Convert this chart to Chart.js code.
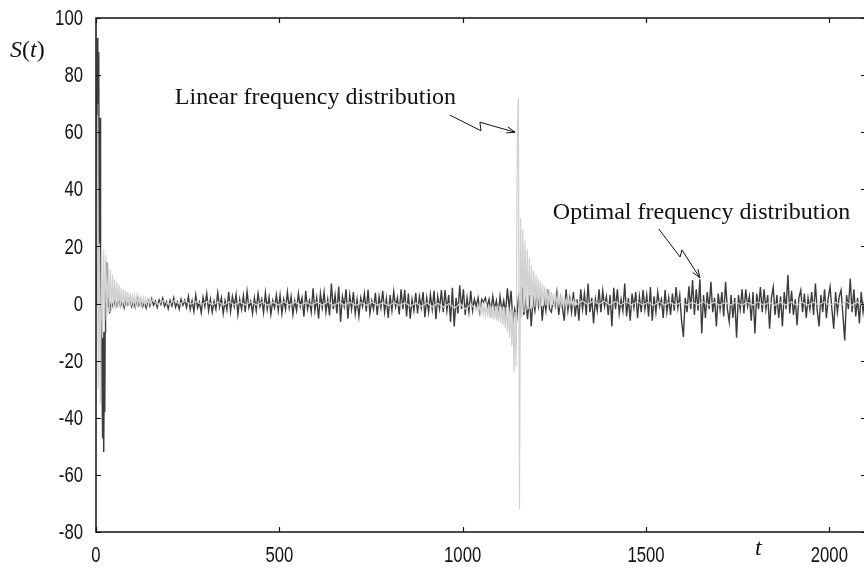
<!DOCTYPE html>
<html>
<head>
<meta charset="utf-8">
<script src="https://cdn.jsdelivr.net/npm/chart.js@4.4.0/dist/chart.umd.min.js"></script>
<style>
  html, body { margin: 0; padding: 0; background: #fff; overflow: hidden; }
  #wrap { width: 870px; height: 572px; }
</style>
</head>
<body>
<div id="wrap"><canvas id="c"></canvas></div>
<script>
// axis ticks
const xTicks = [0, 500, 1000, 1500, 2000];
const yTicks = [-80, -60, -40, -20, 0, 20, 40, 60, 80, 100];

// optimal frequency distribution (dark) - first big swing, read point by point
const darkHeadT = [0, 2, 4, 5, 6, 7, 8, 9, 10, 11, 12, 13, 14, 16, 18, 19, 20, 21, 22, 24, 25, 26, 28, 29, 31, 33, 35, 37, 39];
const darkHeadS = [0, 50, 93, 70, 87, 75, 88, 20, -3, 65, 30, -5, 0, -20, -47, -30, -10, -52, -35, -38, -10, 2, 10, 14.5, 10, -1, 2, -3.5, -1];

// then sampled every 5 from t = 42
const darkStart = 42, darkStep = 5;
const darkA = [ // t 42 - 497
  0.5, -1.2, 1.0, -0.8, 1.5, -1.0, 0.8, -1.5, 1.2, -0.5,
  1.4, -1.1, 0.6, -1.3, 1.8, -0.7, 1.0, -1.2, 0.4, -1.6,
  1.2, -0.9, 1.7, -0.6, 0.9, -1.4, 1.3, -0.3, 1.9, -1.0,
  0.7, -1.8, 1.1, -0.8, 2.0, -1.3, 0.5, -1.9, 1.5, -0.6,
  1.2, -1.4,
  2.5, -2.0, 1.0, -2.8, 3.0, -1.5, 0.5, -3.2, 2.2, -1.0,
  3.5, -2.5, 1.5, -3.0, 0.8, -2.0, 3.8, -1.2, 2.0, -3.5,
  1.0, -2.2, 4.0, -2.8, 2.5, -1.0, 3.2, -3.8, 1.5, -2.0,
  2.8, -3.0, 4.2, -1.5, 0.8, -3.5, 2.0, -2.5, 3.5, -1.0,
  1.5, -3.2, 3.8, -2.0, 2.2, -3.8, 1.0, -1.5, 3.0, -2.5
];
const darkB = [ // t 502 - 997
  3.0, -3.5, 1.5, -2.0, 4.0, -1.5, 2.5, -3.8, 1.0, -2.5,
  3.5, -1.0, 2.0, -4.5, 4.5, -2.0, 1.0, -3.0, 5.3, -2.5,
  2.0, -5.3, 3.5, -1.5, 4.0, -3.0, 1.5, -4.2, 7.0, -2.0,
  3.0, -3.5, 6.0, -6.4, 2.5, -1.0, 5.0, -5.3, 3.0, -2.0,
  4.0, -3.5, 1.5, -4.5, 2.0, -1.0, 3.5, -2.8, 4.8, -3.5,
  1.0, -2.0, 3.8, -4.0, 2.5, -1.5, 4.5, -3.0, 1.8, -5.0,
  3.0, -2.5, 4.2, -1.2, 2.0, -3.8, 5.0, -2.0, 4.7, -4.5,
  3.5, -5.3, 1.5, -2.5, 3.8, -3.5, 2.5, -1.5, 4.0, -4.8,
  2.0, -3.0, 3.2, -2.0, 4.5, -5.5, 2.5, -1.8, 4.7, -3.0,
  4.7, -2.5, 3.0, -6.4, 5.5, -8.0, 2.0, -3.5, 6.4, -2.0
];
const darkC = [ // t 1002 - 1497
  5.0, -4.0, 2.0, -3.0, 4.5, -2.5, 1.5, -1.0, 2.0, -3.0,
  1.5, 0.5, 2.0, -1.0, 1.5, -3.0, 2.5, -2.0, 1.0, -4.0,
  2.5, -2.5, 1.0, -3.5, 5.3, -1.5, 4.5, -6.4, -2.0, -5.8,
  2.0, -3.0, 5.8, -4.0, 1.0, -5.5, 3.0, -8.0, 2.0, -2.5,
  3.0, -1.0, 4.7, -6.0, 1.5, -2.5, 5.0, -2.0, -3.0, 1.5,
  -1.0, 4.0, -4.0, 2.0, -1.5, -6.0, 5.0, -2.5, 2.0, -3.0,
  4.0, -4.5, 1.5, -6.0, 5.0, -2.0, 3.5, -4.0, 7.0, -3.0,
  2.0, -7.0, 1.5, -2.5, 5.0, -3.0, 4.5, -1.0, 2.5, -4.0,
  3.0, -8.0, 5.5, -2.0, 5.0, -3.5, 1.5, -2.5, 7.0, -4.5,
  2.0, -6.0, 3.5, -1.5, 4.0, -5.0, 2.5, -3.0, 4.7, -2.0
];
const darkD = [ // t 1502 - 2097
  3.0, -4.5, 5.8, -6.0, 2.5, -3.0, 4.0, -1.0, 1.5, -5.0,
  4.7, -3.0, 2.0, -4.0, 3.5, -2.5, 5.8, -1.5, 3.0, -6.0,
  -11.7, 2.0, -3.0, 6.0, -2.0, 8.2, -4.0, 5.0, -2.5, 8.5,
  -10.5, 3.0, -5.0, 4.0, -2.0, 7.6, -3.0, 2.0, -8.0, 3.5,
  -2.0, 4.0, -4.5, 7.6, -2.0, -6.4, 3.0, -5.0, 2.0, -12.0,
  3.0, -2.0, 5.0, -3.5, 5.0, -1.0, 2.5, -6.0, 4.0, -10.5,
  3.5, -2.0, 5.8, -3.0, 5.0, -2.0, 3.0, -8.8, 2.0, 5.8,
  -4.0, 3.0, -5.0, 2.5, -8.0, 4.0, -2.0, 10.0, -3.5, 4.5,
  -4.0, 1.5, -7.6, 2.0, 4.7, -3.0, 3.5, -5.0, 2.0, -2.0,
  4.0, -4.0, 7.0, -2.5, -8.0, 3.0, -3.0, 5.0, -5.0, 2.0,
  5.8, -2.0, -8.8, 4.0, -3.0, 2.5, 4.7, -4.0, -12.9, 3.0,
  -2.0, 8.8, -3.0, 5.0, -4.5, 2.0, -7.0, 4.0, -3.0, 2.0
];

// linear frequency distribution (light) - ringing at start, every 3 from t = 0
const lightHead = [
  0, 66, -30, 21, -35, 20, -12, 19, -6, 17, -4, 14, -3, 12, -2.5, 10, -2,
  8.5, -2, 7.5, -1.5, 6.5, -1.5, 5.5, -1, 5, -1, 4.5, -1, 4, -0.8, 3.6, -0.8,
  3.2, -0.6, 3, -0.6, 2.7, -0.5, 2.5, -0.5, 2.2, -0.4, 2, -0.4, 1.8, -0.3,
  1.6, -0.3, 1.5, -0.3
];
// quiet part, every 15 from t = 153
const lightMid = [
  1.3, -0.3, 1.1, -0.3, 1.0, -0.2, 0.9, -0.3, 0.8, -0.3,
  0.7, -0.4, 0.6, -0.5, 0.6, -0.4, 0.5, -0.5, 0.6, -0.5,
  0.5, -0.6, 0.4, -0.5, 0.6, -0.6, 0.5, -0.5, 0.4, -0.6,
  0.5, -0.5, 0.6, -0.6, 0.4, -0.5, 0.5, -0.7, 0.4, -0.6,
  0.5, -0.6, 0.3, -0.8, 0.4, -0.7, 0.3, -0.9, 0.2, -1.0,
  0.2, -1.1, 0.1, -1.3, 0.0, -1.6, 0.0, -2.0, -0.2, -2.5
];
// burst around t = 1150, every 3 from t = 1041
const lightBurst = [
  -0.5, -3.0, -0.3, -3.5, -0.5, -3.8, -0.5, -4.2, -0.6, -4.6,
  -0.6, -5.0, -0.7, -5.3, -0.8, -5.6, -0.8, -6.0, -0.9, -6.3,
  -1.0, -6.8, -1.0, -7.5, -1.2, -8.5, -1.3, -10.0, -1.5, -12.0,
  -1.8, -15.0, -2.0, -24.0, -3.0, -22.0, 60.0, 72.0, -72.0, 30.0,
  -5.0, 26.0, -3.0, 22.0, -2.5, 19.0, -2.0, 16.0, -1.8, 13.5,
  -1.5, 11.5, -1.3, 10.0, -1.1, 8.8, -1.0, 7.8, -0.9, 6.8,
  -0.8, 6.0, -0.7, 5.2, -0.6, 4.6, -0.6, 4.0, -0.5, 3.5,
  -0.5, 3.0, -0.4, 2.7, -0.4, 2.4, -0.4, 2.1, -0.3, 1.9,
  -0.3, 1.7, -0.3, 1.5, -0.3, 1.3, -0.3, 1.2, -0.3, 1.1,
  -0.3
];
// tail, every 15 from t = 1326
const lightTail = [
  1.0, -0.3, 0.9, -0.3, 0.8, -0.4, 0.7, -0.4, 0.6, -0.5,
  0.6, -0.5, 0.5, -0.6, 0.6, -0.5, 0.5, -0.6, 0.6, -0.6,
  0.5, -0.5, 0.6, -0.6, 0.5, -0.6, 0.4, -0.5, 0.6, -0.6,
  0.5, -0.5, 0.6, -0.6, 0.5, -0.6, 0.5, -0.5, 0.6, -0.6,
  0.5, -0.6, 0.5, -0.5, 0.6, -0.6, 0.5, -0.5, 0.6, -0.6,
  0.5, -0.5, 0.5
];

const seq = (t0, dt, vals) => vals.map((v, i) => ({ x: t0 + dt * i, y: v }));

const darkPts = darkHeadT.map((t, i) => ({ x: t, y: darkHeadS[i] }))
  .concat(seq(darkStart, darkStep, [...darkA, ...darkB, ...darkC, ...darkD]));
const lightPts = [].concat(
  seq(0, 3, lightHead),
  seq(153, 15, lightMid),
  seq(1041, 3, lightBurst),
  seq(1326, 15, lightTail)
);

const serif = "'Liberation Serif', 'Times New Roman', serif";
const sans = "'Liberation Sans', Arial, sans-serif";
const squeeze = 0.76; // tick labels are narrow in the original

// frame, inward ticks, narrow tick labels, text and arrows
const notes = {
  id: 'notes',
  afterDatasetsDraw(chart) {
    const { ctx, chartArea: a, scales: { x, y } } = chart;
    const P = (t, v) => [x.getPixelForValue(t), y.getPixelForValue(v)];
    ctx.save();

    ctx.strokeStyle = '#111';
    ctx.lineWidth = 1.5;
    ctx.strokeRect(a.left, a.top, a.right - a.left, a.bottom - a.top);
    ctx.lineWidth = 1.2;
    ctx.beginPath();
    x.ticks.forEach(tk => {
      const px = Math.round(x.getPixelForValue(tk.value)) + 0.5;
      ctx.moveTo(px, a.bottom); ctx.lineTo(px, a.bottom - 5);
      ctx.moveTo(px, a.top); ctx.lineTo(px, a.top + 5);
    });
    y.ticks.forEach(tk => {
      const py = Math.round(y.getPixelForValue(tk.value)) + 0.5;
      ctx.moveTo(a.left, py); ctx.lineTo(a.left + 5, py);
      ctx.moveTo(a.right, py); ctx.lineTo(a.right - 5, py);
    });
    ctx.stroke();

    ctx.fillStyle = '#111';
    ctx.save();
    ctx.scale(squeeze, 1);
    ctx.font = '22px ' + sans;
    ctx.textAlign = 'right';
    ctx.textBaseline = 'middle';
    y.ticks.forEach(tk => {
      ctx.fillText(String(tk.value), (a.left - 13) / squeeze, y.getPixelForValue(tk.value) + 1);
    });
    ctx.textAlign = 'center';
    ctx.textBaseline = 'alphabetic';
    x.ticks.forEach(tk => {
      ctx.fillText(String(tk.value), x.getPixelForValue(tk.value) / squeeze, a.bottom + 30);
    });
    ctx.restore();

    ctx.textBaseline = 'alphabetic';
    ctx.textAlign = 'left';
    // S(t)
    let cx = 10;
    [['S', 'italic '], ['(', ''], ['t', 'italic '], [')', '']].forEach(([s, st]) => {
      ctx.font = st + '24px ' + serif;
      ctx.fillText(s, cx, 57);
      cx += ctx.measureText(s).width;
    });
    ctx.font = 'italic 24px ' + serif;
    ctx.fillText('t', 755, 555);

    ctx.font = '24px ' + serif;
    let [lx, ly] = P(215, 70);
    ctx.fillText('Linear frequency distribution', lx, ly);
    [lx, ly] = P(1246, 29.6);
    ctx.fillText('Optimal frequency distribution', lx, ly);

    const bolt = (pts) => {
      const p = pts.map(q => P(q[0], q[1]));
      ctx.beginPath();
      ctx.moveTo(p[0][0], p[0][1]);
      for (let i = 1; i < p.length; i++) ctx.lineTo(p[i][0], p[i][1]);
      const [ex, ey] = p[p.length - 1];
      const [sx, sy] = p[p.length - 2];
      const ang = Math.atan2(ey - sy, ex - sx);
      const L = 9, w = 0.35;
      ctx.moveTo(ex - L * Math.cos(ang - w), ey - L * Math.sin(ang - w));
      ctx.lineTo(ex, ey);
      ctx.lineTo(ex - L * Math.cos(ang + w), ey - L * Math.sin(ang + w));
      ctx.stroke();
    };
    ctx.strokeStyle = '#111';
    ctx.lineWidth = 1;
    bolt([[965, 66], [1050, 60.5], [1047, 63.5], [1143, 60]]);
    bolt([[1535, 26.1], [1593, 16.3], [1598, 18.8], [1647, 9]]);

    ctx.restore();
  }
};

new Chart(document.getElementById('c'), {
  type: 'line',
  data: {
    datasets: [
      { label: 'Linear frequency distribution', data: lightPts, borderColor: '#d0d0d0', borderWidth: 1.2 },
      { label: 'Optimal frequency distribution', data: darkPts, borderColor: '#3c3c3c', borderWidth: 1.4 }
    ]
  },
  options: {
    responsive: true,
    maintainAspectRatio: false,
    devicePixelRatio: 1,
    animation: false,
    events: [],
    layout: { padding: { left: 0, top: 18, right: 4, bottom: 0 } },
    elements: { point: { radius: 0 }, line: { tension: 0 } },
    plugins: { legend: { display: false }, tooltip: { enabled: false } },
    scales: {
      x: {
        type: 'linear', min: 0, max: 2100,
        afterBuildTicks: s => { s.ticks = xTicks.map(v => ({ value: v })); },
        afterFit: s => { s.height = 40; },
        grid: { display: false, drawTicks: false },
        border: { display: false },
        ticks: { display: false }
      },
      y: {
        min: -80, max: 100,
        afterBuildTicks: s => { s.ticks = yTicks.map(v => ({ value: v })); },
        afterFit: s => { s.width = 96; },
        grid: { display: false, drawTicks: false },
        border: { display: false },
        ticks: { display: false }
      }
    }
  },
  plugins: [notes]
});
</script>
</body>
</html>
